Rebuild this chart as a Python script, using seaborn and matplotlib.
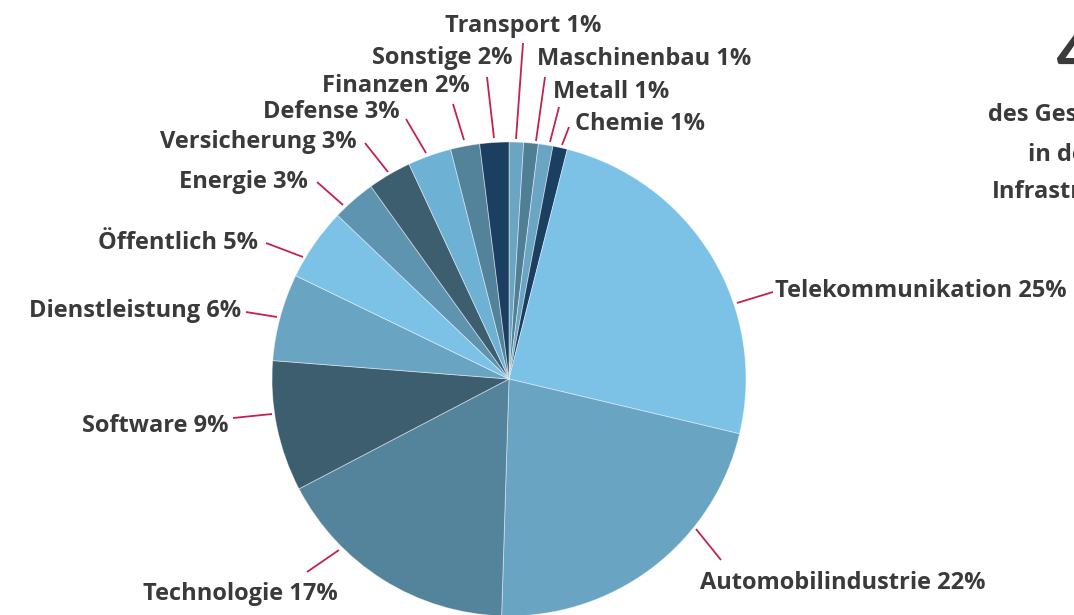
import matplotlib
matplotlib.use("Agg")
import matplotlib.pyplot as plt
import seaborn as sns

# ---- data (clockwise from 12 o'clock) ----
categories = ["Transport", "Maschinenbau", "Metall", "Chemie", "Telekommunikation",
              "Automobilindustrie", "Technologie", "Software", "Dienstleistung",
              "Öffentlich", "Energie", "Versicherung", "Defense", "Finanzen", "Sonstige"]
shares = [1, 1, 1, 1, 25, 22, 17, 9, 6, 5, 3, 3, 3, 2, 2]

headline_lines = ["40%", "des Gesamtumsatzes", "in der", "Infrastruktur"]

# ---- styles ----
slice_colors = ["#6aa6c4", "#4f7f95", "#6aa6c4", "#1b3f60", "#7bc2e6",
                "#69a5c3", "#54849c", "#3d5e6f", "#69a5c3", "#7bc2e6",
                "#5e94b0", "#3c5e6f", "#6db1d4", "#53839b", "#1b3f60"]
TEXT = "#3a3a3a"
LEADER = "#c4214f"

# ---- layout (pixels in a 1074x615 canvas, y from top) ----
W, H = 1074, 615
CX, CY, R = 509, 379, 237
# label: (x, baseline y, ha), leader: (x0, y0) -> (x1, y1)
label_layout = {
    "Transport":          ((523, 32, "center"),  (516, 139, 523, 43)),
    "Maschinenbau":       ((537, 65, "left"),    (536, 141, 545, 77)),
    "Metall":             ((553, 98, "left"),    (550, 142, 559, 107)),
    "Chemie":             ((575, 130, "left"),   (562, 145, 569, 127)),
    "Telekommunikation":  ((775, 297, "left"),   (737, 303, 773, 292)),
    "Automobilindustrie": ((700, 589, "left"),   (696, 529, 721, 560)),
    "Technologie":        ((338, 600, "right"),  (339, 550, 307, 572)),
    "Software":           ((228, 432, "right"),  (272, 414, 233, 418)),
    "Dienstleistung":     ((241, 317, "right"),  (277, 317, 246, 312)),
    "Öffentlich":         ((258, 249, "right"),  (303, 257, 266, 243)),
    "Energie":            ((308, 188, "right"),  (343, 205, 317, 182)),
    "Versicherung":       ((357, 148, "right"),  (388, 172, 365, 143)),
    "Defense":            ((400, 118, "right"),  (426, 153, 406, 119)),
    "Finanzen":           ((470, 92, "right"),   (464, 140, 453, 104)),
    "Sonstige":           ((512, 64, "right"),   (494, 138, 487, 77)),
}

sns.set_theme(style="white")
plt.rcParams["font.family"] = ["Open Sans", "DejaVu Sans"]

fig = plt.figure(figsize=(W / 100, H / 100), dpi=100)
ax = fig.add_axes([0, 0, 1, 1])


def d(x, y):
    return (x - CX) / R, (CY - y) / R


ax.pie(shares, colors=slice_colors, startangle=90, counterclock=False,
       radius=1, center=(0, 0),
       wedgeprops=dict(edgecolor=(1, 1, 1, 0.5), linewidth=0.6))

ax.set_xlim(-CX / R, (W - CX) / R)
ax.set_ylim((CY - H) / R, CY / R)
ax.set_aspect("auto")
ax.axis("off")

FS = 17
for cat, val in zip(categories, shares):
    (tx, ty, ha), (x0, y0, x1, y1) = label_layout[cat]
    ax.plot(*zip(d(x0, y0), d(x1, y1)), color=LEADER, lw=1.3, solid_capstyle="butt")
    ax.text(*d(tx, ty), f"{cat} {val}%", ha=ha, va="baseline",
            fontsize=FS, fontweight="bold", color=TEXT)

# headline block on the right (mostly outside the canvas)
ax.text(*d(1056, 73), headline_lines[0], ha="left", va="baseline",
        fontsize=38, fontweight="heavy", color=TEXT, family=["Lato", "DejaVu Sans"])
for (hx, hy), line in zip([(988, 121), (1028, 161), (992, 198)], headline_lines[1:]):
    ax.text(*d(hx, hy), line, ha="left", va="baseline",
            fontsize=17, fontweight="bold", color=TEXT)

fig.savefig("out.png", dpi=100, facecolor="white")
